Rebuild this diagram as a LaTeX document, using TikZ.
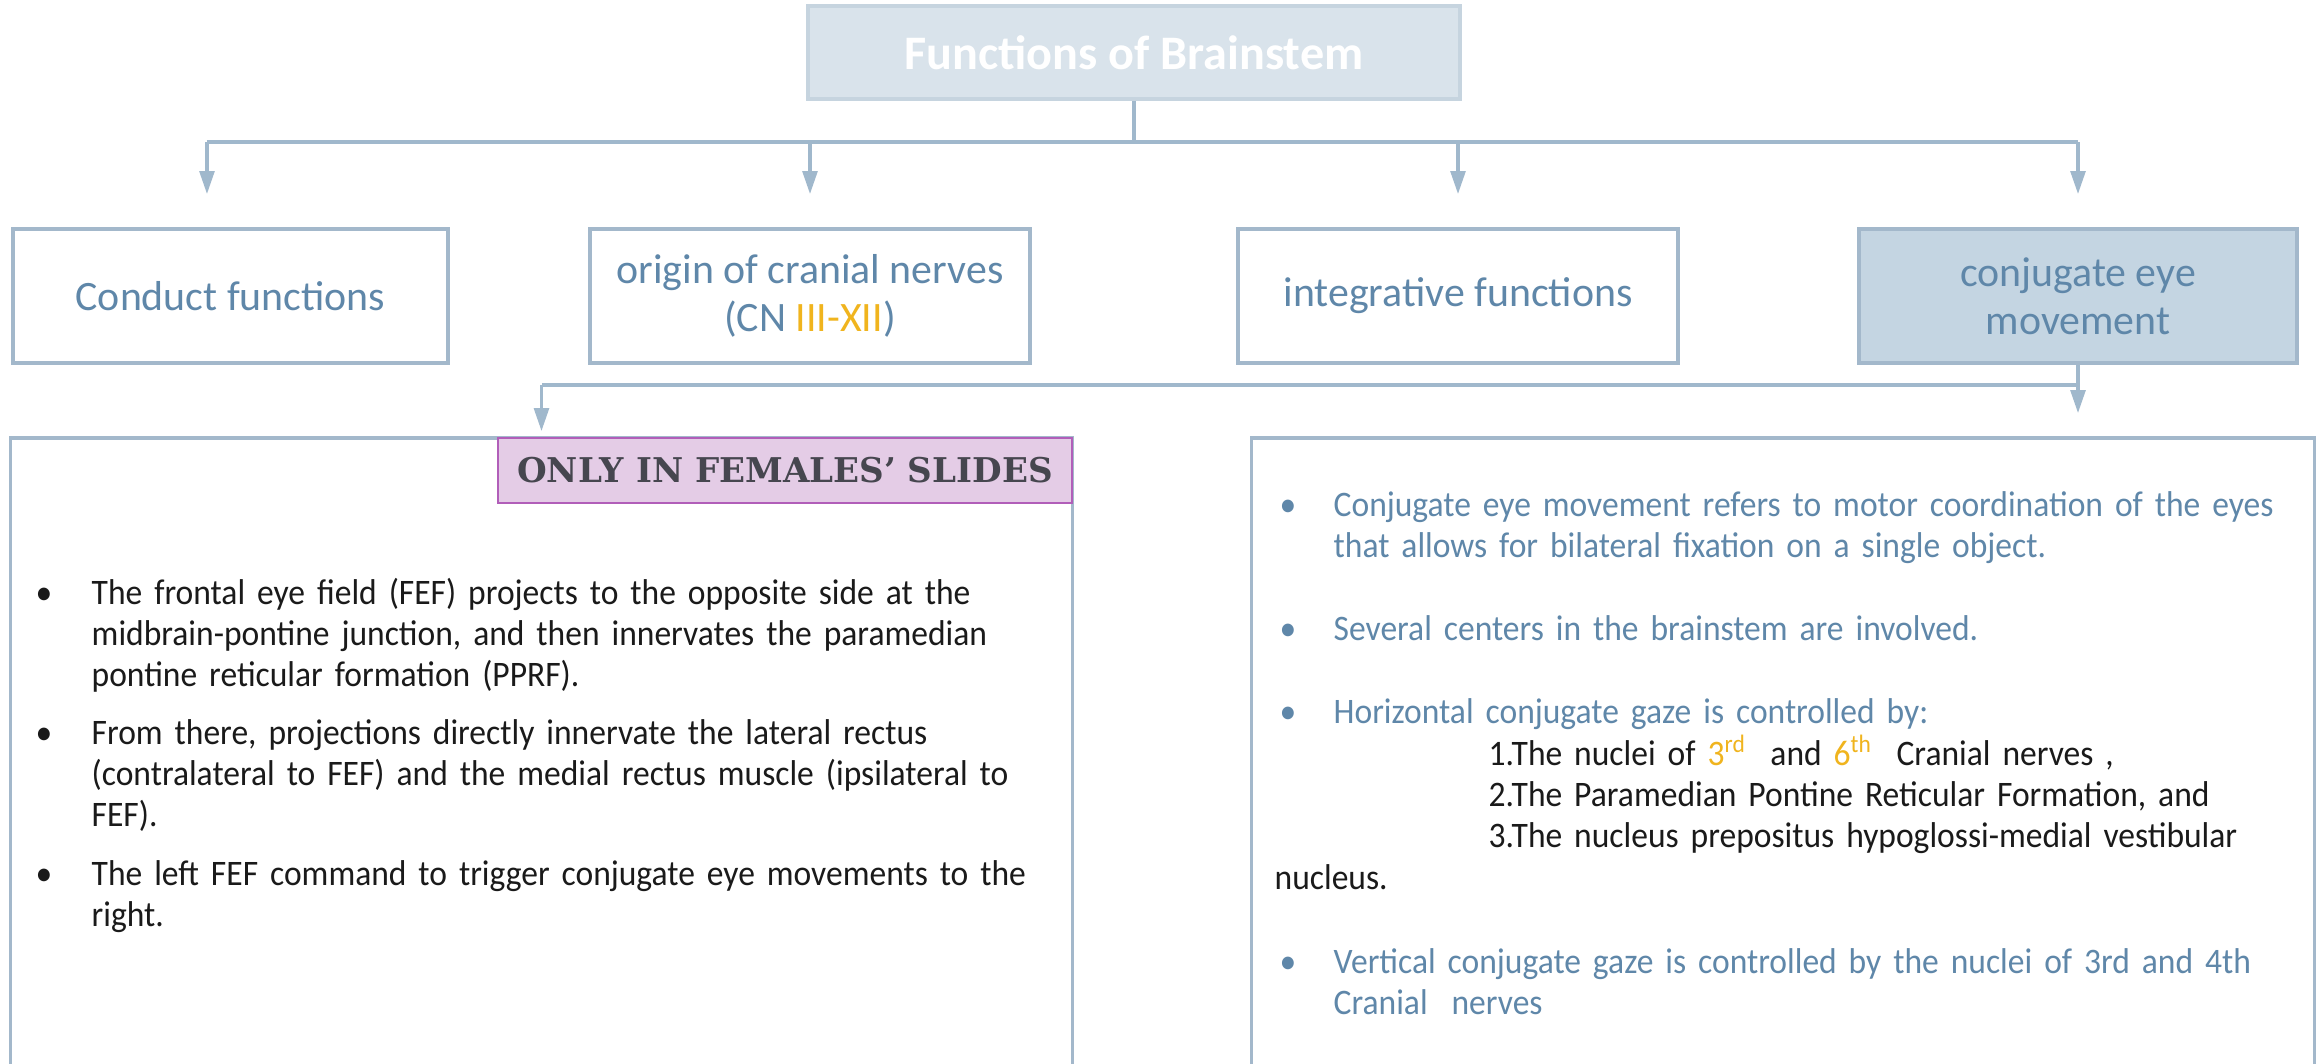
\documentclass[tikz,border=0pt]{standalone}
\usepackage{fontspec}
\setmainfont{Carlito}
\newfontfamily\bodyfont{Carlito}[FakeStretch=0.935]
\newfontfamily\slabfont{DejaVu Serif}
\usetikzlibrary{arrows.meta}
\definecolor{lineblue}{HTML}{A0B8CC}
\definecolor{boxborder}{HTML}{A3B8CB}
\definecolor{topfill}{HTML}{D9E3EB}
\definecolor{topborder}{HTML}{C6D4DF}
\definecolor{conjfill}{HTML}{C4D5E2}
\definecolor{textblue}{HTML}{5F87A9}
\definecolor{gold}{HTML}{F0B41E}
\definecolor{pinkfill}{HTML}{E4CCE6}
\definecolor{pinkborder}{HTML}{B15EB9}
\definecolor{pinktext}{HTML}{46464F}
\definecolor{bodyblack}{HTML}{1A1A1A}
\begin{document}
\begin{tikzpicture}[x=0.01cm,y=-0.01cm,
  conn/.style={draw=lineblue,line width=0.9pt},
  arrowline/.style={conn,-{Triangle[width=4.2pt,length=6.5pt]}},
  topbox/.style={draw=topborder,fill=topfill,line width=1pt,minimum width=6.52cm,minimum height=0.93cm,inner sep=0pt,
     font=\fontsize{13.7}{15}\selectfont\bfseries,text=white},
  lvlbox/.style={draw=boxborder,fill=white,line width=1pt,minimum height=1.34cm,inner sep=0pt,align=center,
     font=\fontsize{11.9}{13.7}\selectfont,text=textblue},
  bigbox/.style={draw=boxborder,fill=white,line width=1pt,minimum height=6.62cm,inner sep=0pt},
  pinkbox/.style={draw=pinkborder,fill=pinkfill,line width=0.6pt,minimum width=5.74cm,minimum height=0.65cm,inner sep=0pt,
     font=\slabfont\bfseries\fontsize{9.7}{11}\selectfont,text=pinktext},
  bul/.style={anchor=base west,inner sep=0pt,font=\bodyfont\fontsize{10.2}{11.66}\selectfont},
  para/.style={anchor=base west,inner sep=0pt,align=left,text width=#1,font=\bodyfont\fontsize{10.2}{11.66}\selectfont}
]
\clip (0,0) rectangle (2320,1063);
\fill[white] (0,0) rectangle (2320,1063);

% top
\node[topbox] (top) at (1134,52.5) {Functions of Brainstem};

% level 2
\node[lvlbox,minimum width=4.35cm] (conduct) at (230.5,296) {Conduct functions};
\node[lvlbox,minimum width=4.40cm] (origin) at (810,296) {origin of cranial nerves\\(CN \textcolor{gold}{III-XII})};
\node[lvlbox,minimum width=4.40cm] (integ) at (1458,296) {integrative functions};
\node[lvlbox,minimum width=4.38cm,fill=conjfill] (conj) at (2078,296) {conjugate eye\\movement};

% connectors top -> level 2
\coordinate (busA) at (0,142);
\coordinate (d1) at ([xshift=-0.235cm]conduct.north |- busA);
\draw[conn] (top.south) -- (top.south |- busA);
\draw[conn] (d1) -- (conj.north |- busA);
\draw[arrowline] (d1) -- ++(0,52);
\draw[arrowline] (origin.north |- busA) -- ++(0,52);
\draw[arrowline] (integ.north |- busA) -- ++(0,52);
\draw[arrowline] (conj.north |- busA) -- ++(0,52);

% lower boxes
\node[bigbox,minimum width=10.61cm] (leftbox) at (541.5,769) {};
\node[bigbox,minimum width=10.62cm] (rightbox) at (1783,769) {};
\node[pinkbox] (pink) at (785,470.5) {ONLY IN FEMALES’ SLIDES};

% lower connectors
\coordinate (busB) at (0,385);
\draw[conn] (conj.south) -- (conj.south |- busB) -- (leftbox.north |- busB);
\draw[arrowline] (leftbox.north |- busB) -- ([yshift=0.05cm]leftbox.north);
\draw[arrowline] (conj.south) -- ([yshift=0.23cm]rightbox.north -| conj.south);

% left box text
\begin{scope}[text=bodyblack]
\node[bul] (lb1) at (35,604) {•};
\node[para=11cm] (lt1) at (91,604) {The frontal eye field (FEF) projects to the opposite side at the\\midbrain-pontine junction, and then innervates the paramedian\\pontine reticular formation (PPRF).};
\node[bul] (lb2) at (35,744) {•};
\node[para=11cm] (lt2) at (91,744) {From there, projections directly innervate the lateral rectus\\(contralateral to FEF) and the medial rectus muscle (ipsilateral to\\FEF).};
\node[bul] (lb3) at (35,885) {•};
\node[para=11cm] (lt3) at (91,885) {The left FEF command to trigger conjugate eye movements to the\\right.};
\end{scope}

% right box text
\begin{scope}[text=textblue]
\node[bul] (rb1) at (1279,516) {•};
\node[para=9.7cm] (rt1) at (1333,516) {Conjugate eye movement refers to motor coordination of the eyes\\that allows for bilateral fixation on a single object.};
\node[bul] (rb2) at (1279,640) {•};
\node[para=9.7cm] (rt2) at (1333,640) {Several centers in the brainstem are involved.};
\node[bul] (rb3) at (1279,723) {•};
\node[para=9.7cm] (rt3) at (1333,723) {Horizontal conjugate gaze is controlled by:};
\node[bul] (rb4) at (1279,973) {•};
\node[para=9.7cm] (rt4) at (1333,973) {Vertical conjugate gaze is controlled by the nuclei of 3rd and 4th\\Cranial\ \ nerves};
\end{scope}
\begin{scope}[text=bodyblack]
\node[para=8cm] (items) at (1488,765) {1.The nuclei of \textcolor{gold}{3\textsuperscript{rd}}\ \ and \textcolor{gold}{6\textsuperscript{th}}\ \ Cranial nerves ,\\2.The Paramedian Pontine Reticular Formation, and\\3.The nucleus prepositus hypoglossi-medial vestibular};
\node[para=3cm] (nuc) at (1274,889) {nucleus.};
\end{scope}
\end{tikzpicture}
\end{document}
